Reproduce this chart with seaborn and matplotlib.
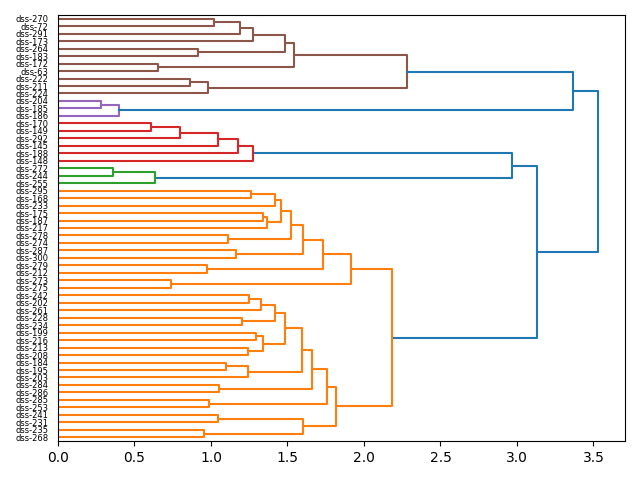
import matplotlib
matplotlib.use("Agg")
import matplotlib.pyplot as plt
import seaborn as sns
import pandas as pd
import numpy as np

# Leaf labels, top to bottom as displayed
leaves = ["dss-270", "dss-72", "dss-291", "dss-173", "dss-264", "dss-183", "dss-172", "dss-63",
          "dss-222", "dss-211", "dss-224", "dss-204", "dss-185", "dss-186", "dss-170", "dss-149",
          "dss-292", "dss-145", "dss-188", "dss-148", "dss-272", "dss-244", "dss-255", "dss-295",
          "dss-168", "dss-233", "dss-175", "dss-187", "dss-217", "dss-278", "dss-274", "dss-287",
          "dss-300", "dss-279", "dss-212", "dss-273", "dss-275", "dss-242", "dss-202", "dss-261",
          "dss-228", "dss-234", "dss-199", "dss-216", "dss-213", "dss-208", "dss-184", "dss-195",
          "dss-203", "dss-284", "dss-286", "dss-285", "dss-253", "dss-241", "dss-231", "dss-235",
          "dss-268"]

# Merges: child a, child b ("#k" = merge k), and merge distance
merge_a = ["dss-270", "#0", "#1", "dss-264", "#2", "dss-172", "#4", "dss-222", "#7", "#6",
           "dss-204", "#10", "#9",
           "dss-170", "#13", "#14", "#15", "#16",
           "dss-272", "#18", "#17",
           "dss-295", "#21", "dss-175", "#23", "#22", "dss-278", "#25", "dss-287", "#27",
           "dss-279", "#29", "dss-273", "#31",
           "dss-242", "#34", "dss-228", "#35", "dss-199", "dss-213", "#38", "#37", "dss-184",
           "#42", "#41", "dss-284", "#44", "dss-285", "#46", "dss-241", "dss-235", "#49",
           "#48", "#33", "#20", "#12"]
merge_b = ["dss-72", "dss-291", "dss-173", "dss-183", "#3", "dss-63", "#5", "dss-211", "dss-224", "#8",
           "dss-185", "dss-186", "#11",
           "dss-149", "dss-292", "dss-145", "dss-188", "dss-148",
           "dss-244", "dss-255", "#19",
           "dss-168", "dss-233", "dss-187", "dss-217", "#24", "dss-274", "#26", "dss-300", "#28",
           "dss-212", "#30", "dss-275", "#32",
           "dss-202", "dss-261", "dss-234", "#36", "dss-216", "dss-208", "#39", "#40", "dss-195",
           "dss-203", "#43", "dss-286", "#45", "dss-253", "#47", "dss-231", "dss-268", "#50",
           "#51", "#52", "#53", "#54"]
merge_h = [1.02, 1.19, 1.275, 0.915, 1.485, 0.655, 1.543, 0.863, 0.98, 2.28,
           0.28, 0.40, 3.366,
           0.607, 0.797, 1.045, 1.177, 1.275,
           0.357, 0.634, 2.969,
           1.26, 1.42, 1.34, 1.367, 1.456, 1.112, 1.524, 1.166, 1.602,
           0.977, 1.733, 0.739, 1.916,
           1.251, 1.328, 1.203, 1.419, 1.295, 1.241, 1.343, 1.485, 1.101,
           1.243, 1.598, 1.053, 1.663, 0.988, 1.759, 1.046, 0.955, 1.602,
           1.816, 2.183, 3.13, 3.53]

n = len(leaves)
leaf_y = {lab: 10 * (n - 1 - i) + 5 for i, lab in enumerate(leaves)}

node_y, node_h = {}, {}
for lab, y in leaf_y.items():
    node_y[lab] = y
    node_h[lab] = 0.0
for k, (a, b, h) in enumerate(zip(merge_a, merge_b, merge_h)):
    node_y[f"#{k}"] = (node_y[a] + node_y[b]) / 2
    node_h[f"#{k}"] = h

threshold = 0.7 * max(merge_h)

# find cluster roots (below threshold, parent above)
parent = {}
for k, (a, b) in enumerate(zip(merge_a, merge_b)):
    parent[a] = f"#{k}"
    parent[b] = f"#{k}"
roots = [f"#{k}" for k in range(len(merge_h))
         if merge_h[k] < threshold and (f"#{k}" not in parent or merge_h[int(parent[f"#{k}"][1:])] >= threshold)]

def leaves_of(node):
    if not node.startswith("#"):
        return [node]
    k = int(node[1:])
    return leaves_of(merge_a[k]) + leaves_of(merge_b[k])

roots.sort(key=lambda r: min(leaf_y[l] for l in leaves_of(r)))
palette_cycle = ["C1", "C2", "C3", "C4", "C5", "C6", "C7", "C8", "C9"]
node_color = {}
for i, r in enumerate(roots):
    col = palette_cycle[i % len(palette_cycle)]
    stack = [r]
    while stack:
        nd = stack.pop()
        node_color[nd] = col
        if nd.startswith("#"):
            kk = int(nd[1:])
            stack += [merge_a[kk], merge_b[kk]]

rows = []
for k, (a, b, h) in enumerate(zip(merge_a, merge_b, merge_h)):
    col = node_color.get(f"#{k}", "C0")
    pts = [(node_h[a], node_y[a]), (h, node_y[a]), (h, node_y[b]), (node_h[b], node_y[b])]
    for j, (x, y) in enumerate(pts):
        rows.append({"link": k, "order": j, "x": x, "y": y, "color": col})
df = pd.DataFrame(rows)

fig, ax = plt.subplots(figsize=(6.4, 4.8), dpi=100)
cols = sorted(df["color"].unique())
sns.lineplot(data=df, x="x", y="y", units="link", estimator=None, sort=False,
             hue="color", palette={c: c for c in cols}, legend=False, ax=ax,
             linewidth=1.5)

mh = max(merge_h)
ax.set_xlim(0, mh * 1.05)
ax.set_ylim(0, 10 * n)
ax.set_yticks([leaf_y[l] for l in leaves])
ax.set_yticklabels(leaves, fontsize=6)
for line in ax.get_yticklines():
    line.set_visible(False)
ax.set_xlabel("")
ax.set_ylabel("")
plt.subplots_adjust(left=0.0906, right=0.9766, top=0.96875, bottom=0.08125)
fig.savefig("out.png", dpi=100)
